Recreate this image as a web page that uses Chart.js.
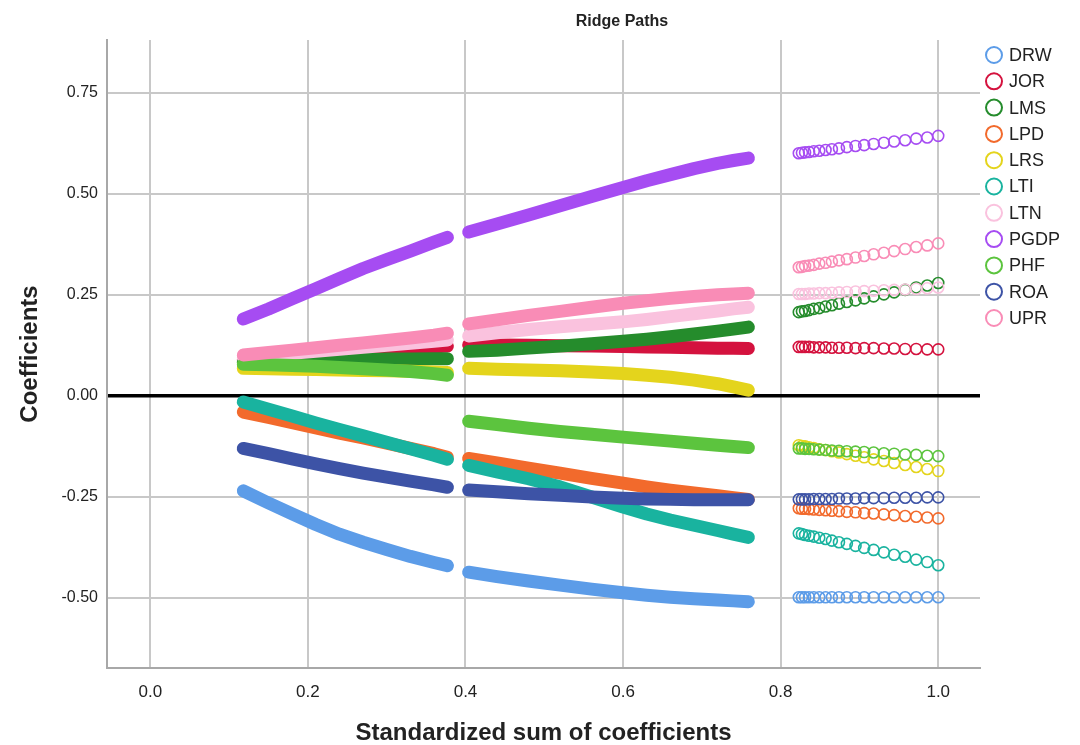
<!DOCTYPE html>
<html>
<head>
<meta charset="utf-8">
<title>Ridge Paths</title>
<script src="https://cdn.jsdelivr.net/npm/chart.js@4.4.1/dist/chart.umd.min.js"></script>
<style>
  html, body { margin: 0; padding: 0; background: #ffffff; }
  canvas { display: block; }
</style>
</head>
<body>
<canvas id="ridgeChart" width="1080" height="745"></canvas>
<script>
// x positions of the three groups of ridge solutions
const xs1 = [0.118, 0.15, 0.18, 0.21, 0.24, 0.27, 0.30, 0.33, 0.36, 0.377];
const xs2 = [0.404, 0.44, 0.48, 0.52, 0.56, 0.60, 0.63, 0.66, 0.69, 0.72, 0.74, 0.759];
const xs3 = [0.823, 0.827, 0.831, 0.836, 0.842, 0.849, 0.857, 0.865, 0.874, 0.884,
             0.895, 0.906, 0.918, 0.931, 0.944, 0.958, 0.972, 0.986, 1.0];

const seriesNames = ['DRW', 'JOR', 'LMS', 'LPD', 'LRS', 'LTI', 'LTN', 'PGDP', 'PHF', 'ROA', 'UPR'];

// coefficients per series: [group 1, group 2, group 3]
const DRW = [
    [-0.235, -0.265, -0.292, -0.318, -0.342, -0.362, -0.380, -0.397, -0.412, -0.420],
    [-0.436, -0.447, -0.458, -0.468, -0.478, -0.487, -0.493, -0.498, -0.502, -0.505, -0.507, -0.509],
    [-0.498, -0.498, -0.498, -0.498, -0.498, -0.498, -0.498, -0.498, -0.498, -0.498,
     -0.498, -0.498, -0.498, -0.498, -0.498, -0.498, -0.498, -0.498, -0.498]
];
const JOR = [
    [0.090, 0.094, 0.098, 0.102, 0.106, 0.110, 0.114, 0.117, 0.121, 0.123],
    [0.126, 0.126, 0.125, 0.124, 0.123, 0.122, 0.121, 0.120, 0.119, 0.118, 0.118, 0.117],
    [0.121, 0.121, 0.121, 0.121, 0.120, 0.120, 0.120, 0.119, 0.119, 0.119,
     0.118, 0.118, 0.118, 0.117, 0.117, 0.116, 0.116, 0.115, 0.115]
];
const LMS = [
    [0.083, 0.085, 0.087, 0.088, 0.089, 0.090, 0.091, 0.091, 0.092, 0.092],
    [0.110, 0.113, 0.118, 0.123, 0.129, 0.135, 0.140, 0.146, 0.153, 0.160, 0.165, 0.170],
    [0.207, 0.209, 0.210, 0.212, 0.215, 0.217, 0.221, 0.224, 0.228, 0.232,
     0.236, 0.241, 0.246, 0.251, 0.256, 0.262, 0.268, 0.273, 0.279]
];
const LPD = [
    [-0.040, -0.053, -0.066, -0.079, -0.092, -0.104, -0.117, -0.130, -0.143, -0.152],
    [-0.155, -0.166, -0.179, -0.191, -0.204, -0.216, -0.225, -0.233, -0.240, -0.247, -0.252, -0.256],
    [-0.278, -0.279, -0.279, -0.280, -0.281, -0.282, -0.283, -0.284, -0.285, -0.287,
     -0.288, -0.290, -0.291, -0.293, -0.295, -0.297, -0.299, -0.301, -0.303]
];
const LRS = [
    [0.068, 0.067, 0.066, 0.065, 0.064, 0.063, 0.062, 0.061, 0.059, 0.058],
    [0.068, 0.066, 0.064, 0.062, 0.059, 0.055, 0.051, 0.046, 0.039, 0.030, 0.022, 0.014],
    [-0.122, -0.124, -0.125, -0.127, -0.129, -0.132, -0.134, -0.137, -0.140, -0.144,
     -0.148, -0.152, -0.157, -0.161, -0.166, -0.171, -0.176, -0.181, -0.186]
];
const LTI = [
    [-0.015, -0.033, -0.050, -0.067, -0.083, -0.099, -0.115, -0.131, -0.147, -0.157],
    [-0.172, -0.188, -0.205, -0.225, -0.250, -0.275, -0.292, -0.307, -0.320, -0.333, -0.342, -0.350],
    [-0.340, -0.342, -0.344, -0.346, -0.348, -0.351, -0.354, -0.358, -0.362, -0.366,
     -0.371, -0.376, -0.381, -0.387, -0.393, -0.398, -0.405, -0.411, -0.419]
];
const LTN = [
    [0.095, 0.100, 0.105, 0.110, 0.115, 0.120, 0.125, 0.130, 0.135, 0.138],
    [0.148, 0.156, 0.164, 0.171, 0.177, 0.183, 0.189, 0.196, 0.203, 0.210, 0.215, 0.219],
    [0.252, 0.252, 0.252, 0.253, 0.253, 0.254, 0.254, 0.255, 0.256, 0.257,
     0.258, 0.259, 0.260, 0.261, 0.262, 0.263, 0.265, 0.266, 0.268]
];
const PGDP = [
    [0.190, 0.215, 0.240, 0.265, 0.290, 0.315, 0.337, 0.358, 0.380, 0.392],
    [0.405, 0.425, 0.447, 0.470, 0.493, 0.515, 0.532, 0.547, 0.562, 0.575, 0.582, 0.588],
    [0.600, 0.601, 0.602, 0.603, 0.605, 0.606, 0.608, 0.610, 0.612, 0.615,
     0.618, 0.620, 0.623, 0.626, 0.629, 0.632, 0.636, 0.639, 0.643]
];
const PHF = [
    [0.078, 0.077, 0.075, 0.073, 0.070, 0.067, 0.064, 0.060, 0.055, 0.051],
    [-0.063, -0.071, -0.080, -0.088, -0.095, -0.102, -0.107, -0.112, -0.117, -0.122, -0.125, -0.128],
    [-0.130, -0.130, -0.131, -0.131, -0.132, -0.133, -0.134, -0.135, -0.136, -0.137,
     -0.138, -0.139, -0.140, -0.142, -0.143, -0.145, -0.146, -0.148, -0.149]
];
const ROA = [
    [-0.130, -0.143, -0.156, -0.168, -0.180, -0.191, -0.201, -0.211, -0.220, -0.226],
    [-0.233, -0.237, -0.242, -0.246, -0.250, -0.253, -0.255, -0.256, -0.257, -0.257, -0.257, -0.257],
    [-0.256, -0.256, -0.256, -0.256, -0.255, -0.255, -0.255, -0.255, -0.254, -0.254,
     -0.254, -0.253, -0.253, -0.253, -0.252, -0.252, -0.252, -0.251, -0.251]
];
const UPR = [
    [0.101, 0.107, 0.113, 0.119, 0.125, 0.131, 0.137, 0.143, 0.150, 0.155],
    [0.178, 0.188, 0.199, 0.209, 0.219, 0.229, 0.235, 0.241, 0.246, 0.250, 0.252, 0.254],
    [0.318, 0.319, 0.321, 0.322, 0.324, 0.327, 0.329, 0.332, 0.335, 0.338,
     0.342, 0.346, 0.350, 0.354, 0.358, 0.363, 0.368, 0.372, 0.377]
];

const xTicks = [0.0, 0.2, 0.4, 0.6, 0.8, 1.0];
const yTicks = [-0.5, -0.25, 0, 0.25, 0.5, 0.75];

const seriesValues = [DRW, JOR, LMS, LPD, LRS, LTI, LTN, PGDP, PHF, ROA, UPR];
const seriesColors = ['#5c9ce8', '#d4123e', '#258c2c', '#f26a2c', '#e4d41c', '#19b39f',
                      '#fac2de', '#a64cf2', '#5cc43e', '#3d53a6', '#f98cb6'];

// one dataset per series, groups split by a null point so the band breaks
function buildPoints(groups) {
    const pts = [];
    [xs1, xs2, xs3].forEach((xs, g) => {
        xs.forEach((x, i) => pts.push({ x: x, y: groups[g][i] }));
        if (g < 2) pts.push({ x: xs[xs.length - 1] + 0.01, y: null });
    });
    return pts;
}

const datasets = seriesNames.map((name, i) => ({
    label: name,
    data: buildPoints(seriesValues[i]),
    showLine: true,
    spanGaps: false,
    borderColor: seriesColors[i],
    backgroundColor: 'transparent',
    borderWidth: 13,
    borderCapStyle: 'round',
    borderJoinStyle: 'round',
    pointBorderColor: seriesColors[i],
    pointBackgroundColor: 'rgba(255,255,255,0)',
    pointBorderWidth: 1.6,
    pointRadius: ctx => (ctx.raw && ctx.raw.x > 0.8 ? 5.5 : 0),
    pointHoverRadius: 0,
    order: seriesNames.length - i, // later series drawn on top
    segment: {
        borderColor: ctx => (ctx.p0.parsed.x > 0.8 ? 'rgba(0,0,0,0)' : undefined)
    }
}));

// title and legend drawn at the reference spots
const decorPlugin = {
    id: 'decor',
    afterDraw(chart) {
        const ctx = chart.ctx;
        ctx.save();
        ctx.fillStyle = '#222';
        ctx.font = 'bold 16px "Liberation Sans", Arial, sans-serif';
        ctx.textAlign = 'center';
        ctx.textBaseline = 'middle';
        ctx.fillText('Ridge Paths', 622, 22);

        ctx.font = '18px "Liberation Sans", Arial, sans-serif';
        ctx.textAlign = 'left';
        seriesNames.forEach((name, i) => {
            const y = 55 + i * 26.3;
            ctx.beginPath();
            ctx.arc(994, y, 8, 0, Math.PI * 2);
            ctx.strokeStyle = seriesColors[i];
            ctx.lineWidth = 2;
            ctx.stroke();
            ctx.fillStyle = '#222';
            ctx.fillText(name, 1009, y + 1);
        });
        ctx.restore();
    }
};

const ctx = document.getElementById('ridgeChart').getContext('2d');

new Chart(ctx, {
    type: 'scatter',
    data: { datasets: datasets },
    options: {
        responsive: false,
        animation: false,
        devicePixelRatio: 1,
        layout: {
            autoPadding: false,
            padding: { top: 40, right: 100, bottom: 0, left: 0 }
        },
        plugins: {
            legend: { display: false },
            title: { display: false },
            tooltip: { enabled: false }
        },
        scales: {
            x: {
                type: 'linear',
                min: -0.055,
                max: 1.053,
                afterBuildTicks: scale => { scale.ticks = xTicks.map(v => ({ value: v })); },
                afterFit: scale => { scale.height = 77; },
                grid: { color: '#c8c8c8', lineWidth: 2, drawTicks: false },
                border: { color: '#a8a8a8', width: 2 },
                ticks: {
                    padding: 14,
                    color: '#222',
                    font: { family: '"Liberation Sans Narrow", "Liberation Sans", Arial, sans-serif', size: 17 },
                    callback: v => v.toFixed(1)
                },
                title: {
                    display: true,
                    text: 'Standardized sum of coefficients',
                    color: '#222',
                    padding: { top: 0, bottom: 0 },
                    font: { family: '"Liberation Sans", Arial, sans-serif', size: 24, weight: 'bold', lineHeight: 1 }
                }
            },
            y: {
                type: 'linear',
                min: -0.673,
                max: 0.88,
                afterBuildTicks: scale => { scale.ticks = yTicks.map(v => ({ value: v })); },
                afterFit: scale => { scale.width = 107; },
                grid: {
                    color: c => (c.tick && c.tick.value === 0 ? '#000000' : '#c8c8c8'),
                    lineWidth: c => (c.tick && c.tick.value === 0 ? 3.5 : 2),
                    drawTicks: false
                },
                border: { color: '#a8a8a8', width: 2 },
                ticks: {
                    padding: 9,
                    color: '#222',
                    font: { family: '"Liberation Sans", Arial, sans-serif', size: 16 },
                    callback: v => v.toFixed(2)
                },
                title: {
                    display: true,
                    text: 'Coefficients',
                    color: '#222',
                    padding: { top: 18, bottom: 0 },
                    font: { family: '"Liberation Sans", Arial, sans-serif', size: 24, weight: 'bold', lineHeight: 1 }
                }
            }
        }
    },
    plugins: [decorPlugin]
});
</script>
</body>
</html>
